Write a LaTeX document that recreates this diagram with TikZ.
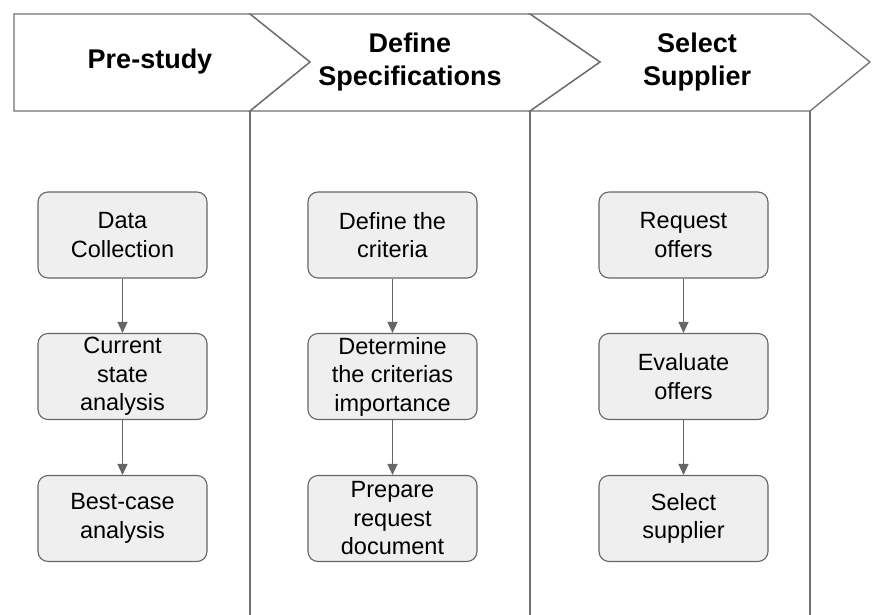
\documentclass[tikz,border=0pt]{standalone}
\usepackage{fontspec}
\setmainfont{Liberation Sans}
\usetikzlibrary{arrows.meta}
\definecolor{linegray}{HTML}{666666}
\definecolor{chevgray}{HTML}{707070}
\definecolor{boxfill}{HTML}{EFEFEF}
\tikzset{
  stepbox/.style={draw=linegray, fill=boxfill, rounded corners=10pt, line width=1.1pt,
    minimum width=169pt, minimum height=86pt, inner sep=0pt, align=center,
    font=\fontsize{23.5}{28.5}\selectfont},
  headtext/.style={align=center, font=\bfseries\fontsize{27}{33}\selectfont},
  chev/.style={draw=chevgray, line width=1.3pt, line join=miter},
  flow/.style={draw=linegray, line width=1.3pt, -{Triangle[length=11pt,width=10pt]}},
  lane/.style={draw=chevgray, line width=1.3pt}
}
\begin{document}
\begin{tikzpicture}[x=1pt,y=-1pt]
\useasboundingbox (0,0) rectangle (872,615);
% chevrons
\draw[chev] (14,14) -- (250,14) -- (310,62) -- (250,111) -- (14,111) -- cycle;
\draw[chev] (250,14) -- (530,14) -- (600,62) -- (530,111) -- (250,111) -- (310,62) -- cycle;
\draw[chev] (530,14) -- (810,14) -- (870,62) -- (810,111) -- (530,111) -- (600,62) -- cycle;
% lanes
\coordinate (l1t) at (250,111); \coordinate (l1b) at (250,615);
\coordinate (l2t) at (530,111); \coordinate (l2b) at (530,615);
\coordinate (l3t) at (810,111); \coordinate (l3b) at (810,615);
\draw[lane] (l1t) -- (l1b);
\draw[lane] (l2t) -- (l2b);
\draw[lane] (l3t) -- (l3b);
% headers
\node[headtext] (h1) at (150,62) {Pre-study};
\node[headtext] (h2) at (410,62) {Define\\Specifications};
\node[headtext] (h3) at (697,62) {Select\\Supplier};
% column 1
\node[stepbox] (a1) at (122.5,235) {Data\\Collection};
\node[stepbox] (a2) at (122.5,376.5) {Current\\state\\analysis};
\node[stepbox] (a3) at (122.5,518.5) {Best-case\\analysis};
% column 2
\node[stepbox] (b1) at (392.5,235) {Define the\\criteria};
\node[stepbox] (b2) at (392.5,376.5) {Determine\\the criterias\\importance};
\node[stepbox] (b3) at (392.5,518.5) {Prepare\\request\\document};
% column 3
\node[stepbox] (c1) at (683.5,235) {Request\\offers};
\node[stepbox] (c2) at (683.5,376.5) {Evaluate\\offers};
\node[stepbox] (c3) at (683.5,518.5) {Select\\supplier};
% arrows
\draw[flow] (a1) -- (a2);
\draw[flow] (a2) -- (a3);
\draw[flow] (b1) -- (b2);
\draw[flow] (b2) -- (b3);
\draw[flow] (c1) -- (c2);
\draw[flow] (c2) -- (c3);
\end{tikzpicture}
\end{document}
